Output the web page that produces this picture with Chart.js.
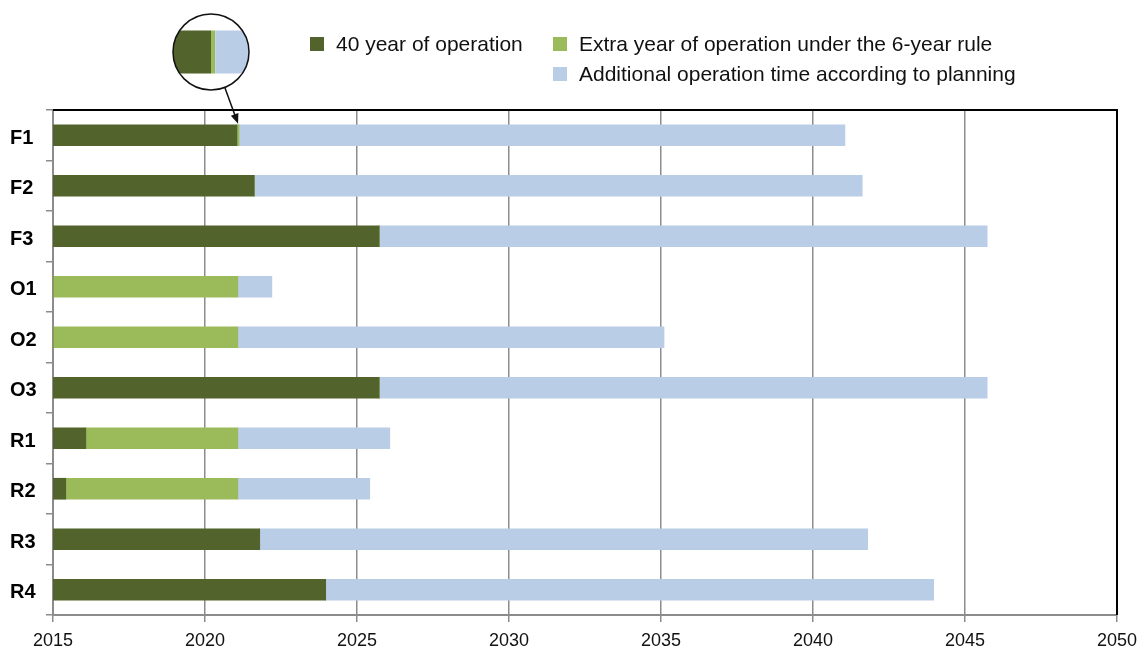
<!DOCTYPE html>
<html>
<head>
<meta charset="utf-8">
<script src="https://cdn.jsdelivr.net/npm/chart.js@4.4.1/dist/chart.umd.min.js"></script>
<style>
  html, body { margin: 0; padding: 0; background: #fff; }
  #wrap { position: relative; width: 1146px; height: 648px; }
  #legend { position: absolute; left: 0; top: 0; font-family: "Liberation Sans", Arial, sans-serif; font-size: 21px; color: #111; }
  .item { position: absolute; white-space: nowrap; line-height: 24px; }
  .box { display: inline-block; width: 14px; height: 14px; vertical-align: 0px; margin-right: 12px; }
</style>
</head>
<body>
<div id="wrap">
  <canvas id="chart" width="1146" height="648"></canvas>
  <div id="legend"></div>
</div>
<script>
// Data
const categories = ['F1', 'F2', 'F3', 'O1', 'O2', 'O3', 'R1', 'R2', 'R3', 'R4'];
const startYear = 2015;
const yearTicks = [2015, 2020, 2025, 2030, 2035, 2040, 2045, 2050];
// end year of each segment
const opEnd = [2021.05, 2021.62, 2025.73, 2015, 2015, 2025.73, 2016.08, 2015.42, 2021.8, 2023.97];
const extraEnd = [2021.12, 2021.62, 2025.73, 2021.08, 2021.08, 2025.73, 2021.08, 2021.08, 2021.8, 2023.97];
const planEnd = [2041.05, 2041.62, 2045.73, 2022.2, 2035.1, 2045.73, 2026.08, 2025.42, 2041.8, 2043.97];
const seriesNames = ['40 year of operation', 'Extra year of operation under the 6-year rule', 'Additional operation time according to planning'];
const seriesColors = ['#52632b', '#9bbb5a', '#b9cde7'];

const ranges = [
  opEnd.map(v => [startYear, v]),
  extraEnd.map((v, i) => [opEnd[i], v]),
  planEnd.map((v, i) => [extraEnd[i], v])
];

// Legend
const legendPos = [[310, 32], [553, 32], [553, 62]];
document.getElementById('legend').innerHTML = seriesNames.map((n, i) =>
  `<div class="item" style="left:${legendPos[i][0]}px;top:${legendPos[i][1]}px">` +
  `<span class="box" style="background:${seriesColors[i]}"></span>${n}</div>`
).join('');

// Frame on top and right
const framePlugin = {
  id: 'frame',
  afterDatasetsDraw(chart) {
    const { ctx, chartArea: a } = chart;
    ctx.save();
    ctx.strokeStyle = '#000';
    ctx.lineWidth = 2;
    ctx.beginPath();
    ctx.moveTo(a.left, a.top);
    ctx.lineTo(a.right, a.top);
    ctx.lineTo(a.right, a.bottom);
    ctx.stroke();
    ctx.restore();
  }
};

// Magnifier over F1's transition
const magnifierPlugin = {
  id: 'magnifier',
  afterDraw(chart) {
    const { ctx } = chart;
    const xs = chart.scales.x;
    const cx = 211, cy = 52, r = 38, zoom = 2;
    const pxYear = xs.getPixelForValue(startYear + 1) - xs.getPixelForValue(startYear);
    const pivot = opEnd[0];
    const toX = v => cx + (v - pivot) * pxYear * zoom;
    const h = 43;
    ctx.save();
    ctx.beginPath();
    ctx.arc(cx, cy, r, 0, Math.PI * 2);
    ctx.fillStyle = '#fff';
    ctx.fill();
    ctx.clip();
    ranges.forEach((set, d) => {
      const [a, b] = set[0];
      if (b <= a) return;
      ctx.fillStyle = seriesColors[d];
      ctx.fillRect(toX(a), cy - h / 2, toX(b) - toX(a), h);
    });
    ctx.restore();
    ctx.save();
    ctx.strokeStyle = '#111';
    ctx.lineWidth = 1.5;
    ctx.beginPath();
    ctx.arc(cx, cy, r, 0, Math.PI * 2);
    ctx.stroke();
    // arrow to the bar
    const meta = chart.getDatasetMeta(1).data[0];
    const tx = xs.getPixelForValue(extraEnd[0]) - 1;
    const ty = meta.y - meta.height / 2 - 1;
    const sx = 225, sy = 88;
    const ang = Math.atan2(ty - sy, tx - sx);
    ctx.beginPath();
    ctx.moveTo(sx, sy);
    ctx.lineTo(tx - 8 * Math.cos(ang), ty - 8 * Math.sin(ang));
    ctx.stroke();
    ctx.fillStyle = '#111';
    ctx.beginPath();
    ctx.moveTo(tx, ty);
    ctx.lineTo(tx - 10 * Math.cos(ang) + 4 * Math.sin(ang), ty - 10 * Math.sin(ang) - 4 * Math.cos(ang));
    ctx.lineTo(tx - 10 * Math.cos(ang) - 4 * Math.sin(ang), ty - 10 * Math.sin(ang) + 4 * Math.cos(ang));
    ctx.closePath();
    ctx.fill();
    ctx.restore();
  }
};

new Chart(document.getElementById('chart'), {
  type: 'bar',
  data: {
    labels: categories,
    datasets: ranges.map((data, i) => ({
      label: seriesNames[i],
      data,
      backgroundColor: seriesColors[i],
      borderWidth: 0,
      borderSkipped: false,
      barThickness: 21
    }))
  },
  options: {
    indexAxis: 'y',
    responsive: false,
    animation: false,
    layout: { padding: { top: 110, right: 29, left: 10, bottom: 0 } },
    plugins: { legend: { display: false }, tooltip: { enabled: false } },
    scales: {
      x: {
        min: yearTicks[0],
        max: yearTicks[yearTicks.length - 1],
        afterFit: s => { s.height = 33; },
        afterBuildTicks: s => { s.ticks = yearTicks.map(v => ({ value: v })); },
        ticks: {
          padding: 8,
          color: '#111',
          font: { family: 'Liberation Sans, Arial', size: 18 },
          maxRotation: 0,
          callback: v => String(v)
        },
        grid: { color: '#8c8c8c', lineWidth: 1.5, tickLength: 7 },
        border: { color: '#8c8c8c', width: 2 }
      },
      y: {
        stacked: true,
        afterFit: s => { s.width = 43; },
        ticks: {
          crossAlign: 'far',
          labelOffset: 3,
          color: '#000',
          font: { family: 'Liberation Sans, Arial', size: 20, weight: 'bold' }
        },
        grid: { offset: true, drawOnChartArea: false, color: '#8c8c8c', lineWidth: 1.5, tickLength: 7 },
        border: { color: '#8c8c8c', width: 2 }
      }
    }
  },
  plugins: [framePlugin, magnifierPlugin]
});
</script>
</body>
</html>
